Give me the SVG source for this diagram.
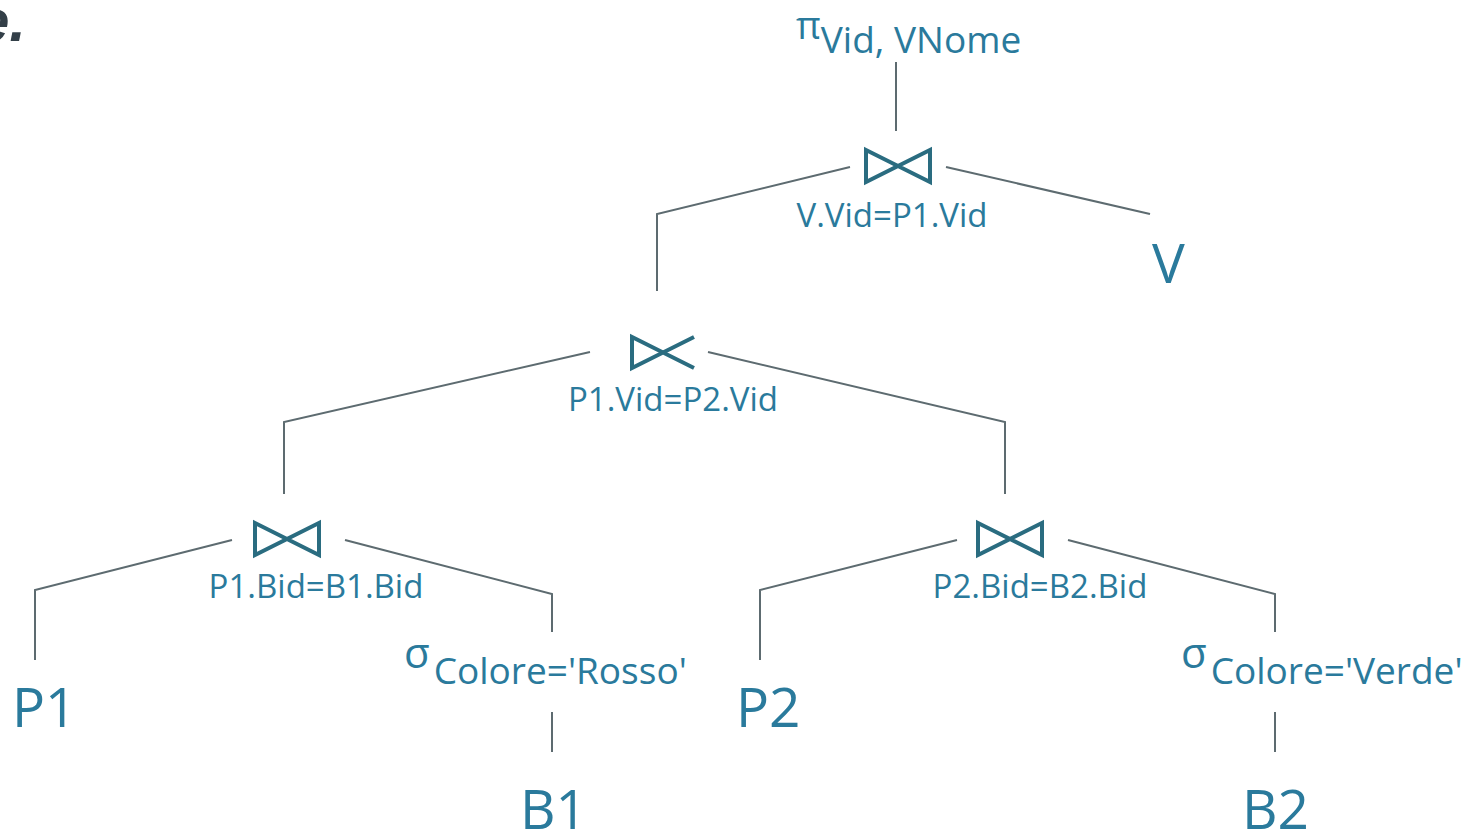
<svg xmlns="http://www.w3.org/2000/svg" xmlns:xlink="http://www.w3.org/1999/xlink" width="1466" height="834" viewBox="0 0 1466 834">
<style>
.t{font-family:"Open Sans","Noto Sans",sans-serif;fill:#2a7a9c}
.lbl{font-size:33px;text-anchor:middle}
.rel{font-size:55px}
.sym{fill:none;stroke:#2a6c80;stroke-width:4;stroke-linejoin:miter}
.edge{fill:none;stroke:#5d6b70;stroke-width:2}
</style>
<defs>
<path id="join" class="sym" d="M0,0 L64,32 L64,0 L0,32 Z"/>
<path id="semijoin" class="sym" d="M62,0 L0,31 L0,0 L62,31"/>
</defs>
<rect width="1466" height="834" fill="#ffffff"/>
<text x="-24" y="41" style="font-family:'Liberation Sans',sans-serif;font-size:60px;font-weight:bold;font-style:italic;fill:#333f48">e.</text>
<g id="connectors">
<line class="edge" x1="896" y1="62" x2="896" y2="131"/>
<polyline class="edge" points="850,167 657,214 657,291"/>
<line class="edge" x1="946" y1="167" x2="1150" y2="214"/>
<polyline class="edge" points="590,352 284,422 284,494"/>
<polyline class="edge" points="708,352 1005,422 1005,494"/>
<polyline class="edge" points="232,540 35,590 35,660"/>
<polyline class="edge" points="345,540 552,594 552,632"/>
<line class="edge" x1="552" y1="712" x2="552" y2="752"/>
<polyline class="edge" points="957,540 760,590 760,660"/>
<polyline class="edge" points="1068,540 1275,594 1275,632"/>
<line class="edge" x1="1275" y1="712" x2="1275" y2="752"/>
</g>
<g id="proj">
<text class="t" x="796" y="39" style="font-size:38px">π<tspan y="53" style="font-size:37px">Vid, VNome</tspan></text>
</g>
<g id="join1">
<use xlink:href="#join" x="866" y="150"/>
<text class="t lbl" x="892" y="227">V.Vid=P1.Vid</text>
</g>
<g id="relV">
<text class="t rel" x="1152" y="283">V</text>
</g>
<g id="join2">
<use xlink:href="#semijoin" x="632" y="337"/>
<text class="t lbl" x="673" y="411">P1.Vid=P2.Vid</text>
</g>
<g id="join3">
<use xlink:href="#join" x="255" y="523"/>
<text class="t lbl" x="316" y="598">P1.Bid=B1.Bid</text>
</g>
<g id="join4">
<use xlink:href="#join" x="978" y="523"/>
<text class="t lbl" x="1040" y="598">P2.Bid=B2.Bid</text>
</g>
<g id="relP1">
<text class="t rel" x="12" y="727">P1</text>
</g>
<g id="relP2">
<text class="t rel" x="736" y="727">P2</text>
</g>
<g id="sel1">
<text class="t" x="404" y="668" style="font-size:42px">σ<tspan dx="4" y="684" style="font-size:37px">Colore='Rosso'</tspan></text>
</g>
<g id="sel2">
<text class="t" x="1181" y="668" style="font-size:42px">σ<tspan dx="4" y="684" style="font-size:37px">Colore='Verde'</tspan></text>
</g>
<g id="relB1">
<text class="t rel" x="520" y="829">B1</text>
</g>
<g id="relB2">
<text class="t rel" x="1242" y="829">B2</text>
</g>
</svg>
